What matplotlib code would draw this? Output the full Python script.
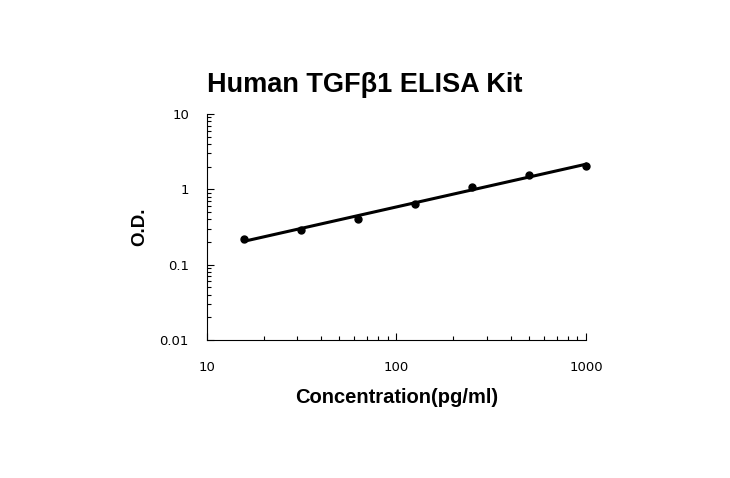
import numpy as np
import matplotlib.pyplot as plt

conc = [15.6, 31.25, 62.5, 125, 250, 500, 1000]
od = [0.22, 0.29, 0.41, 0.63, 1.07, 1.56, 2.04]

fig = plt.figure(figsize=(7.3, 4.78), dpi=100)
ax = fig.add_axes([0.2836, 0.2887, 0.519, 0.4728])

# power trendline fitted in log space
k, b = np.polyfit(np.log10(conc), np.log10(od), 1)
xs = np.logspace(np.log10(conc[0]), np.log10(conc[-1]), 50)
ax.plot(xs, 10 ** (k * np.log10(xs) + b), c='black', lw=2.2, clip_on=False)
ax.plot(conc, od, 'o', c='black', ms=5, clip_on=False)

ax.set_xscale('log')
ax.set_yscale('log')
ax.set_xlim(10, 1000)
ax.set_ylim(0.01, 10)
ax.set_xticks([10, 100, 1000], ['10', '100', '1000'])
ax.set_yticks([0.01, 0.1, 1, 10], ['0.01', '0.1', '1', '10'])
ax.tick_params(which='both', direction='in', labelsize=9.5, width=0.8)
ax.tick_params(which='major', length=5)
ax.tick_params(which='minor', length=3)
ax.tick_params(axis='x', pad=15)
ax.tick_params(axis='y', pad=13)
for s in ['top', 'right']:
    ax.spines[s].set_visible(False)

fig.text(0.5, 0.822, 'Human TGF\u03b21 ELISA Kit', ha='center', va='center',
         fontsize=19.5, fontweight='bold', family='Liberation Sans')
ax.set_xlabel('Concentration(pg/ml)', fontsize=14.5, fontweight='bold',
              family='Liberation Sans', labelpad=10)
ax.set_ylabel('O.D.', fontsize=13.5, fontweight='bold',
              family='Liberation Sans', labelpad=8)

fig.savefig('out.png', dpi=100)
